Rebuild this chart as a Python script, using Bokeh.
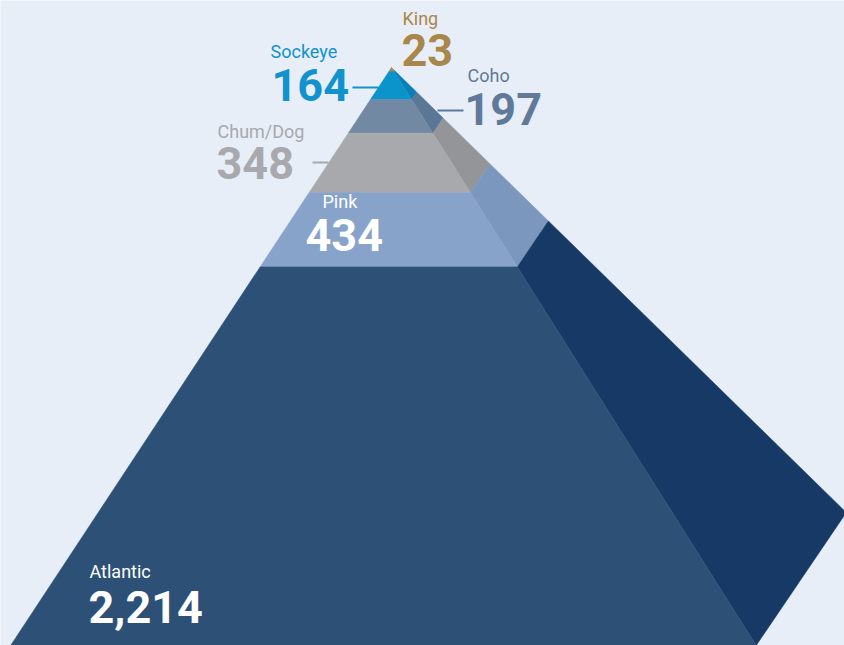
from bokeh.plotting import figure
from bokeh.models import Range1d, ColumnDataSource
from bokeh.embed import file_html
from bokeh.resources import INLINE
from bokeh.core.properties import value

# ---- data ----
species = ["King", "Sockeye", "Coho", "Chum/Dog", "Pink", "Atlantic"]
counts = [23, 164, 197, 348, 434, 2214]
count_labels = ["23", "164", "197", "348", "434", "2,214"]

# ---- styles ----
front_colors = ["#A8874A", "#0B93CB", "#7189A3", "#A7A9AC", "#87A3CA", "#2D5176"]
side_colors = ["#A8874A", "#0A7FB6", "#5B7796", "#939598", "#7C97BD", "#163A65"]
name_colors = ["#A8874A", "#1192CD", "#5F7A99", "#A7A9AC", "#FFFFFF", "#FFFFFF"]
BG = "#E8EEF8"

# ---- layout (page pixels) ----
APEX_X, APEX_Y = 391.0, 67.0
K = 0.171            # vertical page px per unit of count (front face)
LEFT_SLOPE = 0.659   # dx/dy of front-left edge
RIGHT_SLOPE = 0.631  # dx/dy of front-right edge
BACK_DEPTH = 0.770   # back edge depth relative to front depth
BACK_SLOPE = 1.022   # dx/dy of back-right edge

# label anchors: (left x, baseline y) in page pixels
name_pos = [(402, 25), (270, 58), (467, 82), (217, 138), (322, 208), (89, 578)]
num_pos = [(401, 65), (271, 100), (464, 124), (216, 178), (305, 250), (88, 622)]
NAME_SHIFT = -7
NUM_SHIFT = -16
leaders = {1: (352, 87, 378, 87), 2: (437, 110, 463, 110), 3: (312, 162, 328, 162)}

FIG_W, FIG_H = 844, 645


def to_v(py):
    return (py - APEX_Y) / K


cum = [0]
for c in counts:
    cum.append(cum[-1] + c)


def fl(c):
    return APEX_X - LEFT_SLOPE * K * c, c


def fr(c):
    return APEX_X + RIGHT_SLOPE * K * c, c


def br(c):
    return APEX_X + BACK_SLOPE * BACK_DEPTH * K * c, BACK_DEPTH * c


front_xs, front_ys, side_xs, side_ys = [], [], [], []
for i in range(len(counts)):
    c0, c1 = cum[i], cum[i + 1]
    pts = [fl(c0), fr(c0), fr(c1), fl(c1)]
    front_xs.append([p[0] for p in pts])
    front_ys.append([p[1] for p in pts])
    pts = [fr(c0), br(c0), br(c1), fr(c1)]
    side_xs.append([p[0] for p in pts])
    side_ys.append([p[1] for p in pts])

p = figure(width=FIG_W, height=FIG_H, output_backend="svg", toolbar_location=None,
           x_range=Range1d(0, FIG_W),
           y_range=Range1d(to_v(FIG_H), to_v(0)),
           min_border=0)
p.background_fill_color = BG
p.border_fill_color = BG
p.outline_line_color = None
p.axis.visible = False
p.grid.visible = False

p.patches(side_xs, side_ys, fill_color=side_colors, line_color=side_colors, line_width=0.5)
p.patches(front_xs, front_ys, fill_color=front_colors, line_color=front_colors, line_width=0.5)

# leader lines
for i, (x0, y0, x1, y1) in leaders.items():
    p.segment(x0=[x0], y0=[to_v(y0)], x1=[x1], y1=[to_v(y1)],
              line_color=name_colors[i], line_width=2)

name_src = ColumnDataSource(dict(x=[q[0] for q in name_pos], y=[to_v(q[1]) for q in name_pos],
                                 t=species, c=name_colors))
num_src = ColumnDataSource(dict(x=[q[0] for q in num_pos], y=[to_v(q[1]) for q in num_pos],
                                t=count_labels, c=name_colors))
p.text(x="x", y="y", text="t", text_color="c", source=name_src,
       text_font=value("Roboto"), text_font_size="18px", y_offset=NAME_SHIFT,
       text_align="left", text_baseline="alphabetic")
p.text(x="x", y="y", text="t", text_color="c", source=num_src,
       text_font=value("Roboto"), text_font_size="45px", text_font_style="bold",
       y_offset=NUM_SHIFT, text_align="left", text_baseline="alphabetic")

open("out.html", "w").write(file_html(p, INLINE))
